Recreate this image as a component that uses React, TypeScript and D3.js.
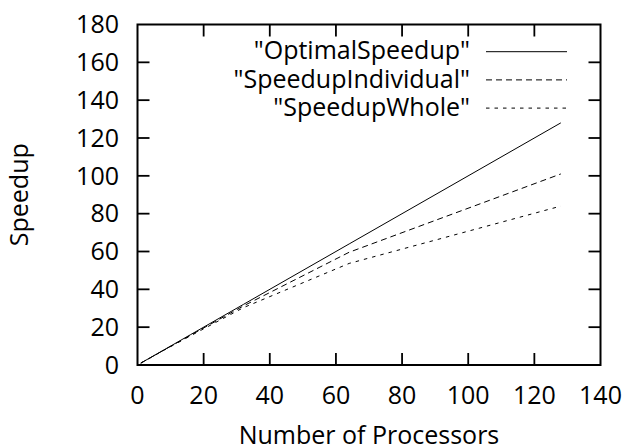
import React from "react";
import * as d3 from "d3";

const processors = [1, 2, 4, 8, 16, 32, 64, 128];
const optimalSpeedup = [1, 2, 4, 8, 16, 32, 64, 128];
const speedupIndividual = [1, 2, 3.95, 7.9, 15.7, 31.2, 59.6, 101];
const speedupWhole = [1, 1.95, 3.9, 7.8, 15.4, 30.3, 53.7, 84];
const xTicks = [0, 20, 40, 60, 80, 100, 120, 140];
const yTicks = [0, 20, 40, 60, 80, 100, 120, 140, 160, 180];
const seriesNames = ['"OptimalSpeedup"', '"SpeedupIndividual"', '"SpeedupWhole"'];

const W = 629, H = 448;
const L = 137.5, R = 600.5, T = 24.5, B = 365;
const FONT = "'Open Sans', sans-serif";
const FS = 25;

export default function App() {
  const x = d3.scaleLinear().domain([0, 140]).range([L, R]);
  const y = d3.scaleLinear().domain([0, 180]).range([B, T]);
  const line = d3.line<[number, number]>().x(d => x(d[0])).y(d => y(d[1]));
  const series = [
    { name: seriesNames[0], vals: optimalSpeedup, dash: undefined },
    { name: seriesNames[1], vals: speedupIndividual, dash: "6,4" },
    { name: seriesNames[2], vals: speedupWhole, dash: "3.5,5" },
  ];
  const tick = 12;
  return (
    <svg width={W} height={H} style={{ position: "absolute", left: 0, top: 0, background: "#fff" }}>
      {series.map((s, i) => (
        <path key={i} d={line(processors.map((p, j) => [p, s.vals[j]]) as [number, number][]) || ""}
          fill="none" stroke="#000" strokeWidth={1} strokeDasharray={s.dash} />
      ))}
      {xTicks.slice(1, -1).map(t => (
        <g key={"xt" + t}>
          <line x1={x(t)} x2={x(t)} y1={B} y2={B - tick} stroke="#000" strokeWidth={1.8} />
          <line x1={x(t)} x2={x(t)} y1={T} y2={T + tick} stroke="#000" strokeWidth={1.8} />
        </g>
      ))}
      {yTicks.slice(1, -1).map(t => (
        <g key={"yt" + t}>
          <line x1={L} x2={L + tick} y1={y(t)} y2={y(t)} stroke="#000" strokeWidth={1.8} />
          <line x1={R} x2={R - tick} y1={y(t)} y2={y(t)} stroke="#000" strokeWidth={1.8} />
        </g>
      ))}
      <rect x={L} y={T} width={R - L} height={B - T} fill="none" stroke="#000" strokeWidth={2} />
      {xTicks.map(t => (
        <text key={"xl" + t} x={x(t)} y={404} textAnchor="middle" fontFamily={FONT} fontSize={FS}>{t}</text>
      ))}
      {yTicks.map(t => (
        <text key={"yl" + t} x={119} y={y(t) + 8.8} textAnchor="end" fontFamily={FONT} fontSize={FS}>{t}</text>
      ))}
      <text x={(L + R) / 2} y={444} textAnchor="middle" fontFamily={FONT} fontSize={FS}>Number of Processors</text>
      <text transform={`translate(27.5,${(T + B) / 2}) rotate(-90)`} textAnchor="middle" fontFamily={FONT} fontSize={FS}>Speedup</text>
      {series.map((s, i) => (
        <g key={"lg" + i}>
          <text x={470} y={51.7 + i * 28.2 + 7.6} textAnchor="end" fontFamily={FONT} fontSize={FS}>{s.name}</text>
          <line x1={486} x2={567} y1={51.7 + i * 28.2} y2={51.7 + i * 28.2} stroke="#000" strokeWidth={1} strokeDasharray={s.dash} />
        </g>
      ))}
    </svg>
  );
}
